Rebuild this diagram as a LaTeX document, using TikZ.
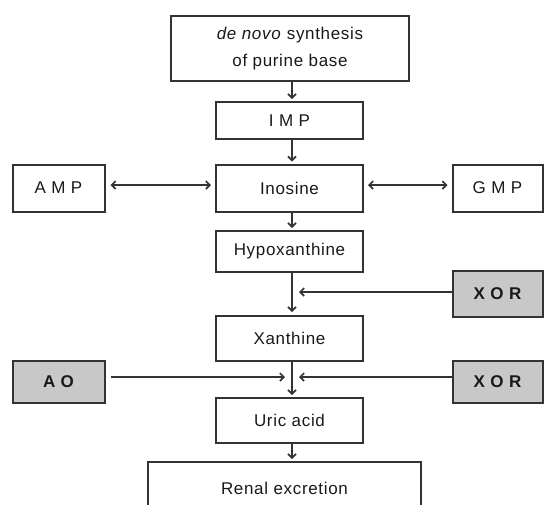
\documentclass[tikz,border=0pt]{standalone}
\usepackage{fontspec}
\setmainfont{Liberation Sans}[LetterSpace=4]
\usetikzlibrary{arrows.meta}
\definecolor{ln}{HTML}{333333}
\definecolor{enz}{HTML}{C8C8C8}
\begin{document}
\begin{tikzpicture}[x=1pt,y=-1pt,
  box/.style={draw=ln, line width=2pt, rectangle, inner sep=0pt, text=black!90,
    font=\fontsize{17}{27}\selectfont, align=center},
  enzbox/.style={box, fill=enz, font=\fontsize{17}{20}\selectfont\bfseries},
  arr/.style={draw=ln, line width=1.6pt, -{Straight Barb[length=4pt,width=8pt]}},
  darr/.style={draw=ln, line width=1.6pt,
    {Straight Barb[length=4pt,width=8pt]}-{Straight Barb[length=4pt,width=8pt]}}]
\useasboundingbox (0,0) rectangle (544,504);
\begin{scope}
\clip (0,0) rectangle (544,504);
% main column
\node[box, minimum width=238pt, minimum height=65pt] (top) at (290,48.5) {\textit{de novo} synthesis\\of purine base};
\node[box, minimum width=147pt, minimum height=37pt] (imp) at (289.5,120.5) {I M P};
\node[box, minimum width=147pt, minimum height=47pt] (ino) at (289.5,188) {Inosine};
\node[box, minimum width=92pt, minimum height=47pt] (amp) at (58.5,188) {A M P};
\node[box, minimum width=90pt, minimum height=47pt] (gmp) at (497.5,188) {G M P};
\node[box, minimum width=147pt, minimum height=41pt] (hyp) at (289.5,251.5) {Hypoxanthine};
\node[enzbox, minimum width=90pt, minimum height=46pt] (xor1) at (497.5,294) {X O R};
\node[box, minimum width=147pt, minimum height=45pt] (xan) at (289.5,338.5) {Xanthine};
\node[enzbox, minimum width=92pt, minimum height=42pt] (ao) at (58.5,382) {A O};
\node[enzbox, minimum width=90pt, minimum height=42pt] (xor2) at (497.5,382) {X O R};
\node[box, minimum width=147pt, minimum height=45pt] (uric) at (289.5,420.5) {Uric acid};
\node[box, minimum width=273pt, minimum height=53pt] (renal) at (284.5,488.5) {Renal excretion};
% column arrows
\coordinate (col) at (292,0);
\draw[arr, shorten >=2pt] (top.south -| col) -- (imp.north -| col);
\draw[arr, shorten >=2pt] (imp.south -| col) -- (ino.north -| col);
\draw[arr, shorten >=2pt] (ino.south -| col) -- (hyp.north -| col);
\draw[arr, shorten >=3pt] (hyp.south -| col) -- (xan.north -| col);
\draw[arr, shorten >=2pt] (xan.south -| col) -- (uric.north -| col);
\draw[arr, shorten >=2pt] (uric.south -| col) -- (renal.north -| col);
% side arrows
\draw[darr, shorten <=5pt, shorten >=4pt] ([yshift=3pt]amp.east) -- ([yshift=3pt]ino.west);
\draw[darr, shorten <=4pt, shorten >=4pt] ([yshift=3pt]ino.east) -- ([yshift=3pt]gmp.west);
\coordinate (j1) at (299,292);
\coordinate (j2r) at (299,377);
\coordinate (j2l) at (285,377);
\draw[arr] (xor1.west |- j1) -- (j1);
\draw[arr] (xor2.west |- j2r) -- (j2r);
\draw[arr, shorten <=5pt] (ao.east |- j2l) -- (j2l);
\end{scope}
\end{tikzpicture}
\end{document}
